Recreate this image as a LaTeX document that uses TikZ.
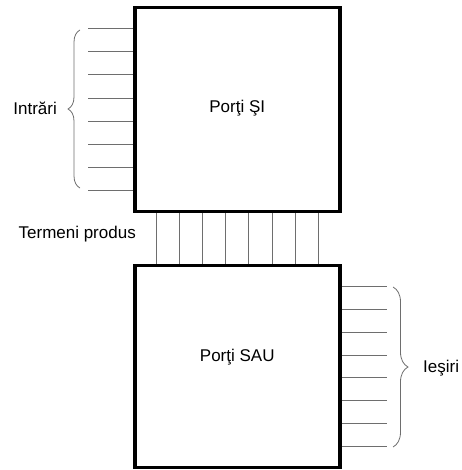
\documentclass[tikz,border=0pt]{standalone}
\usepackage{fontspec}
\setmainfont{Liberation Sans}
\usetikzlibrary{calc,decorations.pathreplacing}
\definecolor{WireGray}{HTML}{6E6E6E}

\begin{document}
\begin{tikzpicture}[x=1pt,y=-1pt,
    gate/.style={
      draw=black,
      line width=3.5pt,
      minimum width=205pt,
      inner sep=0pt
    },
    wire/.style={
      draw=WireGray,
      line width=0.9pt
    },
    curly/.style={
      draw=WireGray,
      line width=0.8pt,
      decorate,
      decoration={brace,amplitude=#1}
    },
    lbl/.style={
      font=\fontsize{17}{20}\selectfont,
      inner sep=0pt
    }]

    \useasboundingbox (0,0) rectangle (461,470);

    % The two gate arrays, AND plane on top, OR plane below
    \node[gate,minimum height=204pt] (andbox) at (237.25,109.5) {};
    \node[gate,minimum height=202pt] (orbox) at (237.25,366.5) {};

    \node[lbl] (andlbl) at (237.25,108) {Porţi ŞI};
    \node[lbl] (orlbl) at (237.25,357) {Porţi SAU};

    % Inputs, product terms and outputs (8 of each)
    \foreach \k in {1,...,8}{
      \draw[wire] ($(andbox.north west)!\k/9!(andbox.south west)$) -- ++(-45,0);
      \draw[wire] ($(andbox.south west)!\k/9!(andbox.south east)$) -- ($(orbox.north west)!\k/9!(orbox.north east)$);
      \draw[wire] ($(orbox.north east)!\k/9!(orbox.south east)$) -- ++(45,0);
    }

    % Braces grouping inputs and outputs
    \draw[curly=12pt] (80,188) -- (80,30);
    \draw[curly=15pt] (393,287) -- (393,447);

    \node[lbl,anchor=east] (inlbl) at (57,108) {Intrări};
    \node[lbl,anchor=west] (outlbl) at (423,368) {Ieşiri};
    \node[lbl,anchor=east] (prodlbl) at (136,234) {Termeni produs};
  \end{tikzpicture}
\end{document}
